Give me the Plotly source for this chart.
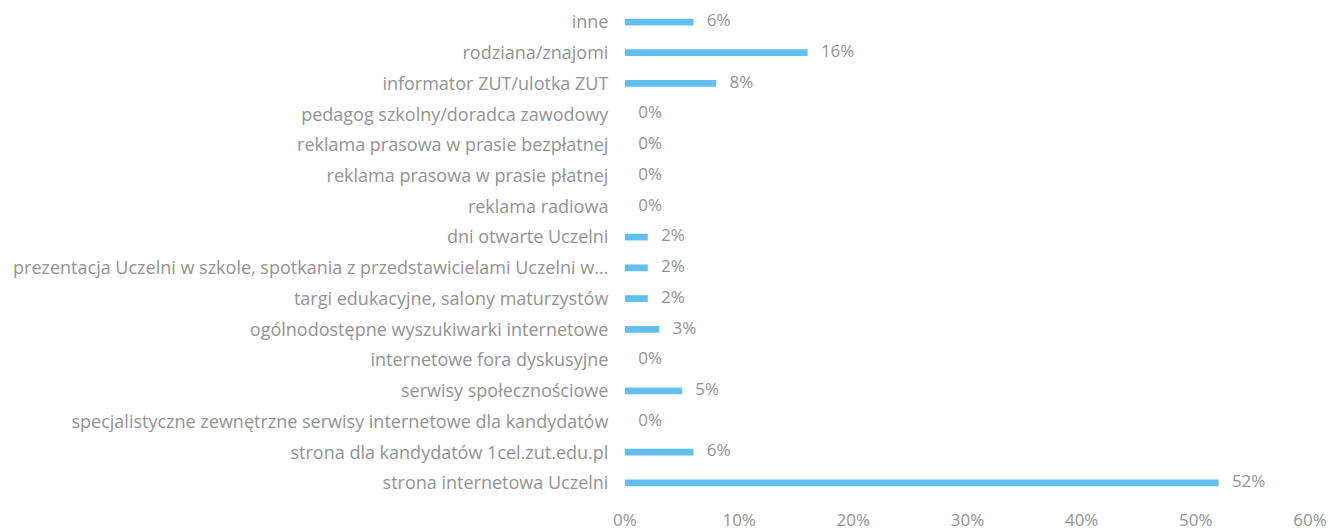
import plotly.graph_objects as go

categories = [
    "inne",
    "rodziana/znajomi",
    "informator ZUT/ulotka ZUT",
    "pedagog szkolny/doradca zawodowy",
    "reklama prasowa w prasie bezpłatnej",
    "reklama prasowa w prasie płatnej",
    "reklama radiowa",
    "dni otwarte Uczelni",
    "prezentacja Uczelni w szkole, spotkania z przedstawicielami Uczelni w...",
    "targi edukacyjne, salony maturzystów",
    "ogólnodostępne wyszukiwarki internetowe",
    "internetowe fora dyskusyjne",
    "serwisy społecznościowe",
    "specjalistyczne zewnętrzne serwisy internetowe dla kandydatów",
    "strona dla kandydatów 1cel.zut.edu.pl",
    "strona internetowa Uczelni",
]
values = [6, 16, 8, 0, 0, 0, 0, 2, 2, 2, 3, 0, 5, 0, 6, 52]
tick_vals = [0, 10, 20, 30, 40, 50, 60]
tick_text = ["0%", "10%", "20%", "30%", "40%", "50%", "60%"]

bar_color = "#62bff0"
text_color = "#939393"
font_family = "Open Sans, Liberation Sans, sans-serif"

fig = go.Figure()
fig.add_trace(go.Bar(
    x=values, y=categories, orientation="h",
    marker=dict(color=bar_color, line=dict(width=0)),
    width=0.22, hoverinfo="skip",
))
fig.add_trace(go.Scatter(
    x=values, y=categories, mode="text",
    text=["   " + f"{v}%" for v in values],
    textposition="middle right",
    textfont=dict(size=17, color=text_color, family=font_family),
    hoverinfo="skip", cliponaxis=False,
))

fig.update_layout(
    width=1327, height=524,
    margin=dict(l=617, r=25, t=0, b=34, autoexpand=False),
    paper_bgcolor="white", plot_bgcolor="white",
    showlegend=False,
    font=dict(family=font_family, color=text_color, size=17),
)
fig.update_xaxes(
    range=[0, 60], tickvals=tick_vals, ticktext=tick_text,
    showgrid=False, zeroline=False, showline=False,
    ticks="outside", ticklen=7, tickcolor="white",
    tickfont=dict(size=17, color=text_color),
)
fig.update_yaxes(
    categoryorder="array", categoryarray=categories,
    range=[15.49, -0.456],
    showgrid=False, zeroline=False, showline=False,
    ticks="outside", ticklen=12, tickcolor="white",
    tickfont=dict(size=18, color=text_color),
    automargin=False,
)
fig.write_html("out.html")
